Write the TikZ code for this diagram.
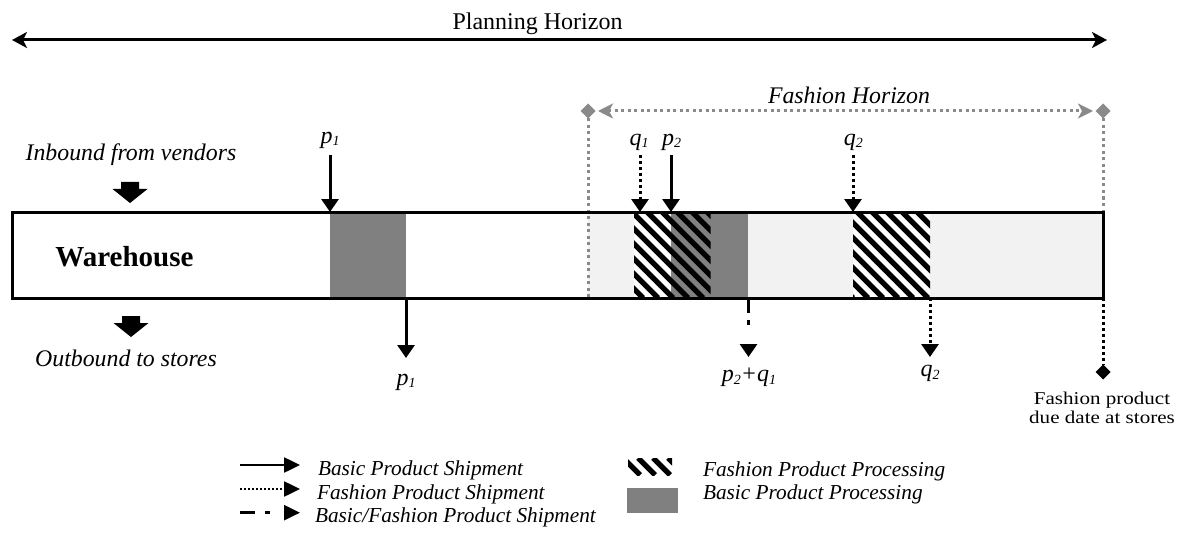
\documentclass[tikz,border=0pt]{standalone}
\usepackage{fontspec}
\setmainfont{Liberation Serif}
\newfontfamily\widerserif[FakeStretch=1.17]{Liberation Serif}
\usetikzlibrary{arrows.meta,shapes.geometric}

\definecolor{basicgray}{HTML}{808080}
\definecolor{fashionbg}{HTML}{F2F2F2}
\definecolor{horizongray}{HTML}{8A8A8A}

% lowered small index digit, as in p1, q2
\newcommand{\lowidx}[1]{\raisebox{-2.5pt}{\fontsize{14}{14}\selectfont #1}}

% diagonal stripes (top-left to bottom-right) clipped to a rectangle
\newcommand{\stripebox}[4]{%
  \begin{scope}
    \clip (#1,#2) rectangle (#3,#4);
    \foreach \c in {-330,-315,...,1020}
      \draw[line width=5.3pt, black] ({\c+#2},#2) -- ({\c+#4},#4);
  \end{scope}}

\tikzset{
  every node/.style={inner sep=0pt, outer sep=0pt},
  idxlabel/.style={font=\fontsize{24}{28}\selectfont\itshape, anchor=base},
  sidetext/.style={font=\fontsize{23.8}{28}\selectfont\itshape, anchor=base},
  legtext/.style={font=\fontsize{21.3}{24}\selectfont\itshape, anchor=base west},
  duetext/.style={font=\widerserif\fontsize{18}{20}\selectfont, anchor=base},
  tri/.tip={Triangle[length=13pt,width=17pt]},
  smalltri/.tip={Triangle[length=16pt,width=15pt]},
  shipsolid/.style={line width=3pt, -tri},
  shipdotted/.style={line width=3pt, dash pattern=on 3pt off 3pt, -tri},
  shipdashdot/.style={line width=3pt, dash pattern=on 15pt off 7pt on 5pt off 40pt, -tri},
  legsolid/.style={line width=2.5pt, -smalltri},
  legdotted/.style={line width=2.5pt, dash pattern=on 2pt off 2pt, -smalltri},
  legdashdot/.style={line width=2.5pt, dash pattern=on 15pt off 10pt on 5pt off 40pt, -smalltri},
  greydots/.style={draw=horizongray, line width=3pt, dash pattern=on 3pt off 3.5pt},
  blackdots/.style={draw=black, line width=3pt, dash pattern=on 3pt off 3pt},
  marker/.style={diamond, minimum width=15pt, minimum height=15pt},
  blockarrow/.style={fill=black},
}

\begin{document}
\begin{tikzpicture}[x=1pt,y=-1pt]
\useasboundingbox (0,0) rectangle (1185,540);

% ---- planning horizon ----
\node[font=\fontsize{24}{28}\selectfont, anchor=base] (phtext) at (537.5,30) {Planning Horizon};
\coordinate (phl) at (12,40);
\coordinate (phr) at (1107,40);
\draw[line width=3pt, {Stealth[length=15pt,width=16pt,inset=4pt]}-{Stealth[length=15pt,width=16pt,inset=4pt]}] (phl) -- (phr);

% ---- fashion horizon ----
\node[marker, fill=horizongray] (fhl) at (588,111) {};
\node[marker, fill=horizongray] (fhr) at (1103,111) {};
\node[sidetext] (fhtext) at (849,103.3) {Fashion Horizon};
\draw[greydots, {Stealth[length=15pt,width=15pt,inset=4pt]}-{Stealth[length=15pt,width=15pt,inset=4pt]},
      shorten <=2.5pt, shorten >=2.5pt] (fhl.east) -- (fhr.west);

% ---- warehouse bar contents ----
\fill[fashionbg] (588,212) rectangle (1103,298);
\fill[basicgray] (330,212) rectangle (406,298);
\fill[white] (634,212) rectangle (671,298);
\fill[basicgray] (671,212) rectangle (748,298);
\stripebox{634}{212}{710.7}{298}
\fill[white] (853,212) rectangle (930,298);
\stripebox{853}{212}{930}{298}

\draw[greydots] (fhl.south) -- (588,298);
\draw[greydots] (fhr.south) -- (1103,212);

\node[draw, line width=3pt, minimum width=1091pt, minimum height=86pt] (box) at (557.5,255) {};
\node[font=\fontsize{29}{32}\selectfont\bfseries, anchor=base] (wh) at (124.5,266.7) {Warehouse};

% ---- inbound / outbound captions with block arrows ----
\node[sidetext] (inb) at (131,160.7) {Inbound from vendors};
\fill[blockarrow] (121,182) -- (139,182) -- (139,189) -- (147.5,189) -- (130,203)
      -- (112.5,189) -- (121,189) -- cycle;
\fill[blockarrow] (122,316) -- (140,316) -- (140,323) -- (148.5,323) -- (131,337)
      -- (113.5,323) -- (122,323) -- cycle;
\node[sidetext] (outb) at (126,366) {Outbound to stores};

% ---- inbound shipments ----
\node[idxlabel] (p1in) at (330,143.5) {p\lowidx{1}};
\node[idxlabel] (q1in) at (639,145.5) {q\lowidx{1}};
\node[idxlabel] (p2in) at (671.7,145.5) {p\lowidx{2}};
\node[idxlabel] (q2in) at (853.3,145.5) {q\lowidx{2}};
\coordinate (p1s) at (330,155);
\coordinate (q1s) at (640,155);
\coordinate (p2s) at (671,155);
\coordinate (q2s) at (853,155);
\draw[shipsolid]  (p1s) -- (p1s |- box.north);
\draw[shipdotted] (q1s) -- (q1s |- box.north);
\draw[shipsolid]  (p2s) -- (p2s |- box.north);
\draw[shipdotted] (q2s) -- (q2s |- box.north);

% ---- outbound shipments ----
\coordinate (p1e) at (406,358);
\coordinate (pqe) at (748.5,357);
\coordinate (q2e) at (930,357);
\draw[shipsolid]   (p1e |- box.south) -- (p1e);
\draw[shipdashdot] (pqe |- box.south) -- (pqe);
\draw[shipdotted]  (q2e |- box.south) -- (q2e);
\node[idxlabel] (p1out) at (406,385) {p\lowidx{1}};
\node[idxlabel] (pqout) at (749,381.7) {p\lowidx{2}+q\lowidx{1}};
\node[idxlabel] (q2out) at (930,376.7) {q\lowidx{2}};

% ---- fashion due date ----
\node[marker, fill=black] (due) at (1103,372) {};
\draw[blackdots] (box.south east) -- (due.north);
\node[duetext] (due1) at (1102,404.5) {Fashion product};
\node[duetext] (due2) at (1102,423.5) {due date at stores};

% ---- legend ----
\coordinate (l1a) at (240,465);   \coordinate (l1b) at (300,465);
\coordinate (l2a) at (240,489);   \coordinate (l2b) at (300,489);
\coordinate (l3a) at (240,512.7); \coordinate (l3b) at (300,512.7);
\draw[legsolid]   (l1a) -- (l1b);
\draw[legdotted]  (l2a) -- (l2b);
\draw[legdashdot] (l3a) -- (l3b);
\node[legtext] (lt1) at (318,475) {Basic Product Shipment};
\node[legtext] (lt2) at (317,499.3) {Fashion Product Shipment};
\node[legtext] (lt3) at (315,522.7) {Basic/Fashion Product Shipment};

\stripebox{628}{458}{672}{475}
\fill[basicgray] (627,488) rectangle (678,513);
\node[legtext] (lt4) at (703,476) {Fashion Product Processing};
\node[legtext] (lt5) at (703,499.3) {Basic Product Processing};
\end{tikzpicture}
\end{document}
